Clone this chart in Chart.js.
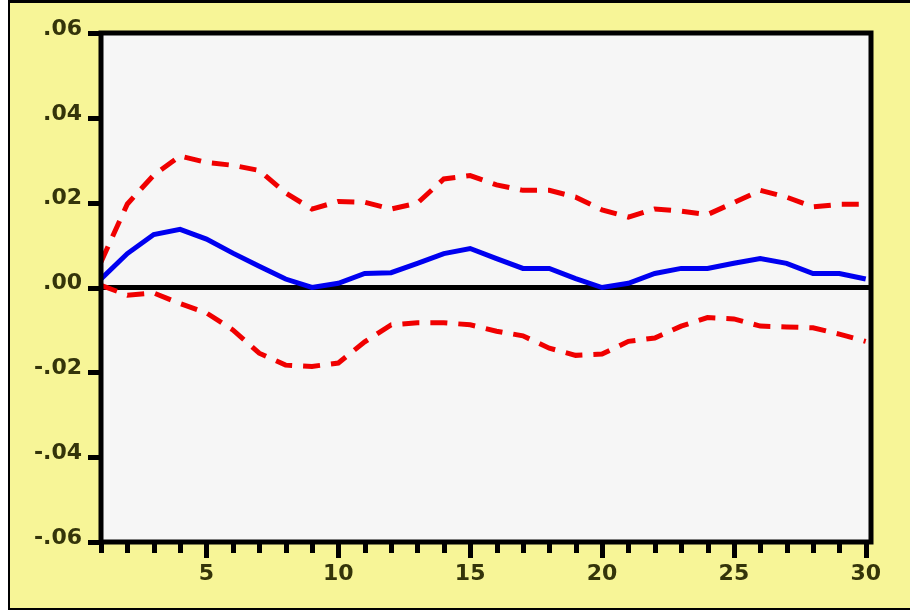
<!DOCTYPE html>
<html>
<head>
<meta charset="utf-8">
<script src="https://cdn.jsdelivr.net/npm/chart.js@4"></script>
<style>
  body { margin: 0; background: #fff; }
  canvas { display: block; }
</style>
</head>
<body>
<canvas id="irf" width="910" height="610"></canvas>
<script>
// periods and impulse response with +/- 2 S.E. bands
const periods = [];
for (let p = 1; p <= 30; p++) periods.push(p);

const response = [0.002, 0.008, 0.0125, 0.0137, 0.0114, 0.0081, 0.005, 0.002, 0.0, 0.001,
                  0.0033, 0.0035, 0.0057, 0.008, 0.0092, 0.0068, 0.0045, 0.0045, 0.0021, 0.0,
                  0.001, 0.0033, 0.0045, 0.0045, 0.0057, 0.0068, 0.0057, 0.0033, 0.0033, 0.002];

const upperBand = [0.006, 0.0197, 0.0265, 0.031, 0.0295, 0.0288, 0.0276, 0.0223, 0.0185, 0.0203,
                   0.0201, 0.0185, 0.0199, 0.0256, 0.0264, 0.0242, 0.0229, 0.0229, 0.0213, 0.0183,
                   0.0166, 0.0185, 0.018, 0.0172, 0.02, 0.0229, 0.0213, 0.019, 0.0196, 0.0196];

const lowerBand = [0.0005, -0.0018, -0.0013, -0.0038, -0.006, -0.010, -0.0155, -0.0183, -0.0186, -0.0178,
                   -0.0128, -0.0088, -0.0083, -0.0083, -0.0088, -0.0103, -0.0114, -0.0143, -0.016, -0.0157,
                   -0.0127, -0.0119, -0.0091, -0.0071, -0.0074, -0.0091, -0.0093, -0.0095, -0.011, -0.0127];

const yTicks = [-0.06, -0.04, -0.02, 0, 0.02, 0.04, 0.06];
const xLabelled = [5, 10, 15, 20, 25, 30];

const YELLOW = '#f7f597';
const TEXT = '#34340a';

function pts(vals) {
    return periods.map((p, i) => ({x: p, y: vals[i]}));
}

function fmtY(v) {
    if (Math.abs(v) < 1e-9) return '.00';
    const s = Math.abs(v).toFixed(2).replace(/^0/, '');
    return (v < 0 ? '-' : '') + s;
}

// background, frame, zero line and tick marks
const frame = {
    id: 'frame',
    beforeDraw(chart) {
        const c = chart.ctx, a = chart.chartArea;
        c.save();
        c.fillStyle = '#fff';
        c.fillRect(0, 0, 910, 610);
        c.fillStyle = '#000';
        c.fillRect(8, 0, 902, 610);
        c.fillStyle = YELLOW;
        c.fillRect(10, 3, 900, 605);
        c.fillStyle = '#f6f6f6';
        c.fillRect(a.left, a.top, a.right - a.left, a.bottom - a.top);
        c.restore();
    },
    beforeDatasetsDraw(chart) {
        const c = chart.ctx, a = chart.chartArea;
        const y0 = chart.scales.y.getPixelForValue(0);
        c.save();
        c.strokeStyle = '#000';
        c.lineWidth = 5;
        c.beginPath();
        c.moveTo(a.left, y0);
        c.lineTo(a.right, y0);
        c.stroke();
        c.restore();
    },
    afterDatasetsDraw(chart) {
        const c = chart.ctx, a = chart.chartArea;
        const xs = chart.scales.x, ys = chart.scales.y;
        c.save();
        c.strokeStyle = '#000';
        c.lineWidth = 5;
        c.strokeRect(a.left, a.top, a.right - a.left, a.bottom - a.top);
        c.fillStyle = '#000';
        periods.forEach(p => {
            const x = xs.getPixelForValue(p);
            const len = p % 5 === 0 ? 16 : 11;
            c.fillRect(Math.round(x) - 2, a.bottom, 5, len);
        });
        yTicks.forEach(v => {
            const y = ys.getPixelForValue(v);
            c.fillRect(a.left - 13, Math.round(y) - 2, 13, 5);
        });
        c.restore();
    }
};

new Chart(document.getElementById('irf'), {
    type: 'line',
    data: {
        datasets: [
            {
                data: pts(upperBand),
                borderColor: '#f00000',
                borderWidth: 5,
                borderDash: [17, 11],
                pointRadius: 0,
                tension: 0
            },
            {
                data: pts(lowerBand),
                borderColor: '#f00000',
                borderWidth: 5,
                borderDash: [17, 11],
                pointRadius: 0,
                tension: 0
            },
            {
                data: pts(response),
                borderColor: '#0000f0',
                borderWidth: 5,
                pointRadius: 0,
                tension: 0
            }
        ]
    },
    options: {
        responsive: false,
        animation: false,
        layout: { padding: { left: 0, right: 39, top: 33, bottom: 0 } },
        plugins: { legend: { display: false }, tooltip: { enabled: false } },
        scales: {
            x: {
                type: 'linear',
                min: 1,
                max: 30.2,
                afterBuildTicks: s => { s.ticks = xLabelled.map(v => ({value: v})); },
                afterFit: s => { s.height = 68; },
                border: { display: false },
                grid: { drawOnChartArea: false, tickLength: 16, tickColor: 'transparent' },
                ticks: {
                    padding: 3,
                    maxRotation: 0,
                    color: TEXT,
                    font: { family: 'DejaVu Sans', size: 22, weight: 'bold' }
                }
            },
            y: {
                min: -0.06,
                max: 0.06,
                afterBuildTicks: s => { s.ticks = yTicks.map(v => ({value: v})); },
                afterFit: s => { s.width = 101; },
                border: { display: false },
                grid: { drawOnChartArea: false, tickLength: 13, tickColor: 'transparent' },
                ticks: {
                    padding: 6,
                    labelOffset: -4,
                    color: TEXT,
                    callback: v => fmtY(v),
                    font: { family: 'DejaVu Sans', size: 22, weight: 'bold' }
                }
            }
        }
    },
    plugins: [frame]
});
</script>
</body>
</html>
